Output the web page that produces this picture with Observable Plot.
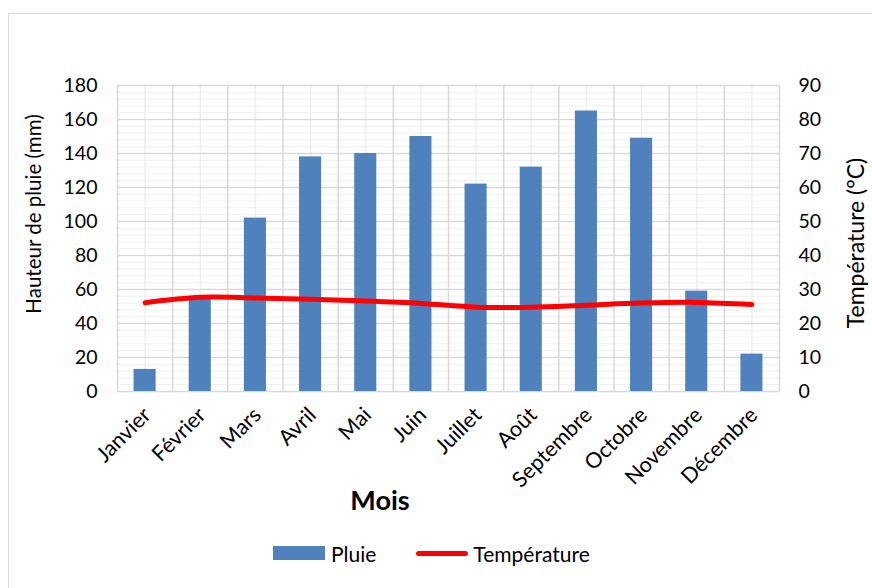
<!DOCTYPE html>
<html>
<head>
<meta charset="utf-8">
<script src="https://cdn.jsdelivr.net/npm/d3@7"></script>
<script src="https://cdn.jsdelivr.net/npm/@observablehq/plot@0.6"></script>
<style>
  html, body { margin: 0; padding: 0; background: #fff; overflow: hidden; }
  #wrap { position: relative; width: 872px; height: 588px; font-family: Lato, "Open Sans", sans-serif; color: #000; }
  #border { position: absolute; left: 8px; top: 13px; width: 900px; height: 700px; border: 1px solid #d9d9d9; box-sizing: border-box; }
  #chart { position: absolute; left: 0; top: 0; }
  .lbl { position: absolute; white-space: nowrap; line-height: 1; }
  #ytitle { left: 33px; top: 214px; font-size: 20.5px; transform: translate(-50%, -50%) rotate(-90deg); }
  #y2title { left: 855px; top: 243px; font-size: 23px; transform: translate(-50%, -50%) rotate(-90deg); }
  #xtitle { left: 380px; top: 499px; font-size: 27px; font-weight: bold; transform: translate(-50%, -50%); }
  #legend { position: absolute; left: 273px; top: 541px; height: 24px; display: flex; align-items: center; font-size: 21px; }
  .swatch-bar { width: 52px; height: 14px; background: #4F81BD; margin-right: 6px; }
  .swatch-line { width: 52px; height: 5px; background: #FF0000; border-radius: 3px; margin-left: 40px; margin-right: 5px; }
</style>
</head>
<body>
<div id="wrap">
  <div id="border"></div>
  <div id="chart"></div>
  <div class="lbl" id="ytitle">Hauteur de pluie (mm)</div>
  <div class="lbl" id="y2title">Température (°C)</div>
  <div class="lbl" id="xtitle">Mois</div>
  <div id="legend">
    <div class="swatch-bar"></div><span>Pluie</span>
    <div class="swatch-line"></div><span>Température</span>
  </div>
</div>
<script>
const months = ["Janvier", "Février", "Mars", "Avril", "Mai", "Juin", "Juillet", "Août", "Septembre", "Octobre", "Novembre", "Décembre"];
const rain = [13, 55, 102, 138, 140, 150, 122, 132, 165, 149, 59, 22];
const temperature = [26.1, 27.7, 27.5, 27.1, 26.6, 25.9, 24.8, 24.8, 25.4, 26.0, 26.2, 25.6];
const rainTicks = [0, 20, 40, 60, 80, 100, 120, 140, 160, 180];
const tempTicks = [0, 10, 20, 30, 40, 50, 60, 70, 80, 90];
const rainMax = 180;
const tempMax = 90;
const ratio = rainMax / tempMax;

const idx = months.map((_, i) => i);
const minorY = d3.range(0, rainMax + 0.001, 4);
const boundaries = d3.range(-0.5, months.length, 1);

const chart = Plot.plot({
  width: 872,
  height: 588,
  marginLeft: 117,
  marginRight: 93,
  marginTop: 85,
  marginBottom: 197,
  x: { domain: [-0.5, months.length - 0.5] },
  y: { domain: [0, rainMax] },
  style: { fontFamily: "Lato, 'Open Sans', sans-serif", fontSize: "19.5px", color: "#000", background: "transparent" },
  marks: [
    Plot.ruleY(minorY, { stroke: "#efefef", strokeWidth: 1 }),
    Plot.ruleX(idx, { stroke: "#efefef", strokeWidth: 1.5 }),
    Plot.ruleY(rainTicks, { stroke: "#d9d9d9", strokeWidth: 1.5 }),
    Plot.ruleX(boundaries, { stroke: "#d9d9d9", strokeWidth: 1.5 }),
    Plot.rectY(rain, { x1: (d, i) => i - 0.2, x2: (d, i) => i + 0.2, y1: 0, y2: d => d, fill: "#4F81BD" }),
    Plot.line(temperature, { x: (d, i) => i, y: d => d * ratio, stroke: "#FF0000", strokeWidth: 5, curve: "catmull-rom", strokeLinecap: "round" }),
    Plot.axisY(rainTicks, { anchor: "left", tickSize: 0, tickPadding: 20, label: null }),
    Plot.axisY(tempTicks.map(d => d * ratio), { anchor: "right", tickSize: 0, tickPadding: 19, tickFormat: d => String(d / ratio), label: null }),
    Plot.axisX(idx, { tickSize: 0, tickPadding: 20, tickRotate: -45, tickFormat: i => months[i], label: null, fontSize: 21.5, dx: 2 })
  ]
});
document.getElementById("chart").appendChild(chart);
</script>
</body>
</html>
